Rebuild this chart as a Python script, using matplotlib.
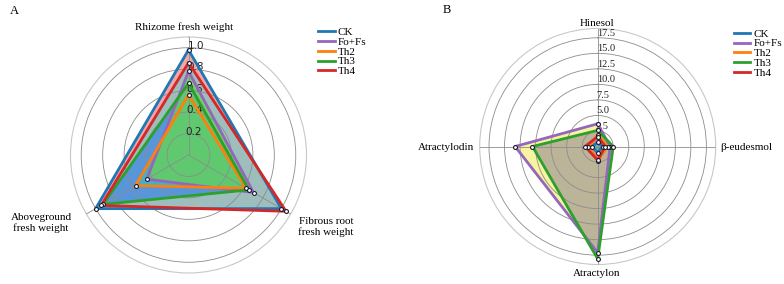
import numpy as np
import matplotlib.pyplot as plt
import matplotlib.transforms as mtransforms

plt.rcParams['font.family'] = ['Liberation Serif', 'DejaVu Serif']

groups = ['CK', 'Fo+Fs', 'Th2', 'Th3', 'Th4']
line_colors = ['#1f77b4', '#9467bd', '#ff7f0e', '#2ca02c', '#d62728']

# panel A - fresh weights (relative)
cats_a = ['Rhizome fresh weight', 'Fibrous root\nfresh weight', 'Aboveground\nfresh weight']
ck_a = [0.98, 1.0, 1.0]
fo_a = [0.78, 0.70, 0.45]
th2_a = [0.56, 0.62, 0.57]
th3_a = [0.67, 0.65, 0.92]
th4_a = [0.86, 1.05, 0.94]
ticks_a = [0.2, 0.4, 0.6, 0.8, 1.0]

# panel B - volatile components
cats_b = ['Hinesol', 'β-eudesmol', 'Atractylon', 'Atractylodin']
ck_b = [0.65, 0.8, 0.97, 0.97]
fo_b = [3.66, 2.0, 17.1, 13.3]
th2_b = [1.9, 1.6, 2.3, 1.5]
th3_b = [2.6, 2.5, 18.1, 10.5]
th4_b = [1.6, 1.2, 2.2, 2.05]
ticks_b = [2.5, 5.0, 7.5, 10.0, 12.5, 15.0, 17.5]

# fill colours (rgb, alpha) and order in which fills are stacked
fills_a = {'CK': ((0.93, 0.50, 0.50), 0.7), 'Th4': ((0.51, 0.78, 0.78), 0.75),
           'Th3': ((0.28, 0.55, 0.88), 0.8), 'Th2': ((0.21, 0.75, 0.78), 0.7),
           'Fo+Fs': ((0.42, 0.82, 0.32), 0.75)}
order_a = ['CK', 'Th4', 'Th3', 'Th2', 'Fo+Fs']
fills_b = {'Fo+Fs': ((0.96, 0.95, 0.54), 0.8), 'Th3': ((0.51, 0.46, 0.57), 0.5),
           'Th2': ((0.95, 0.55, 0.35), 0.6), 'Th4': ((0.95, 0.45, 0.35), 0.6),
           'CK': ((0.25, 0.75, 0.80), 0.8)}
order_b = ['Fo+Fs', 'Th3', 'Th2', 'Th4', 'CK']

# where the category names sit (pixels from top-left) and how they align
labpos_a = [(184, 27, 'center'), (326, 227, 'center'), (41, 223, 'center')]
labpos_b = [(597, 23, 'center'), (720, 147, 'left'), (597, 273, 'center'), (474, 147, 'right')]

W, H = 784, 284


def radar(ax, cats, data, ticks, rmax, fills, order, tick_font, labpos, leg_xy, shift):
    n = len(cats)
    ang = np.linspace(0, 2 * np.pi, n, endpoint=False)
    ang_c = np.append(ang, ang[0])
    ax.set_theta_offset(np.pi / 2)
    ax.set_theta_direction(-1)
    ax.set_axisbelow(False)
    for g in order:
        v = np.append(data[g], data[g][0])
        c, a = fills[g]
        ax.fill(ang_c, v, color=c, alpha=a, lw=0, zorder=2)
    for g, col in zip(groups, line_colors):
        v = np.append(data[g], data[g][0])
        ax.plot(ang_c, v, color=col, lw=2, zorder=3, label=g)
    for g in groups:
        ax.plot(ang, data[g], ls='none', marker='o', ms=2.8, mfc='white',
                mec='#1a1a2e', mew=0.8, zorder=4)
    ax.set_ylim(0, rmax)
    ax.set_yticks(ticks)
    ax.set_yticklabels(['%.1f' % t for t in ticks], fontsize=7.5, color='#222222',
                       family=tick_font)
    ax.set_rlabel_position(1)
    off = mtransforms.ScaledTranslation(shift[0] / 100, shift[1] / 100, fig.dpi_scale_trans)
    for lab in ax.get_yticklabels():
        lab.set_transform(lab.get_transform() + off)
    ax.set_xticks(ang)
    ax.set_xticklabels([])
    ax.grid(color='#8c8c8c', lw=0.6)
    ax.spines['polar'].set_color('#c8c8c8')
    ax.spines['polar'].set_linewidth(0.8)
    for txt, (px, py, ha) in zip(cats, labpos):
        fig.text(px / W, 1 - py / H, txt, fontsize=8, ha=ha, va='center',
                 multialignment='center')
    ax.legend(loc='upper left', bbox_to_anchor=(leg_xy[0] / W, 1 - leg_xy[1] / H),
              bbox_transform=fig.transFigure, frameon=False,
              fontsize=8, labelspacing=0.01, handlelength=1.5,
              handletextpad=0.3, borderaxespad=0, borderpad=0)


fig = plt.figure(figsize=(W / 100, H / 100), dpi=100)

ax1 = fig.add_axes([70.5 / W, 11 / H, 236 / W, 236 / H], projection='polar')
data_a = dict(zip(groups, [ck_a, fo_a, th2_a, th3_a, th4_a]))
radar(ax1, cats_a, data_a, ticks_a, 1.1, fills_a, order_a, 'DejaVu Sans',
      labpos_a, (318, 27), (-3, -3))

ax2 = fig.add_axes([479.7 / W, 19.5 / H, 236 / W, 236 / H], projection='polar')
data_b = dict(zip(groups, [ck_b, fo_b, th2_b, th3_b, th4_b]))
radar(ax2, cats_b, data_b, ticks_b, 19.0, fills_b, order_b, 'Liberation Serif',
      labpos_b, (733.7, 28.8), (-2, 0))

fig.text(10 / W, 1 - 11 / H, 'A', fontsize=9, va='center')
fig.text(443 / W, 1 - 10 / H, 'B', fontsize=9, va='center')

fig.savefig('out.png', dpi=100)
